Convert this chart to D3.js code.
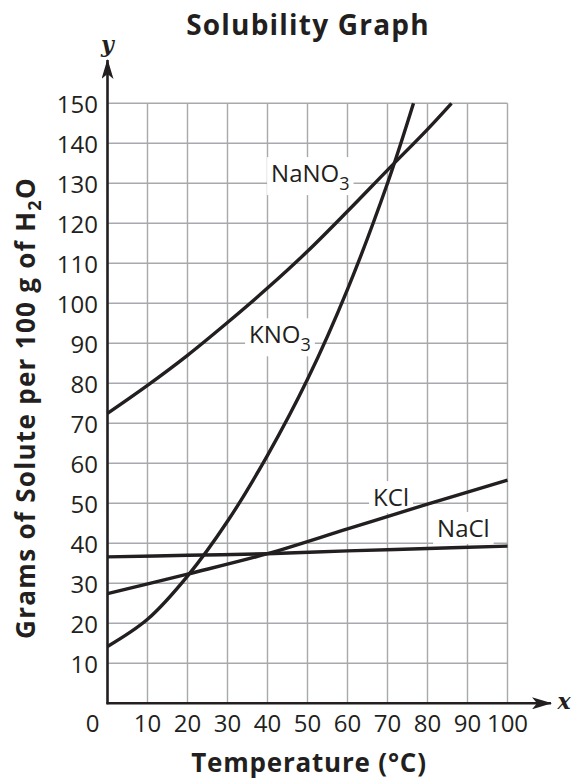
<!DOCTYPE html>
<html>
<head>
<meta charset="utf-8">
<script src="https://cdn.jsdelivr.net/npm/d3@7"></script>
<style>
  body { margin: 0; background: #fff; }
  text { font-family: "Open Sans", "Noto Sans", sans-serif; fill: #231f20; }
</style>
</head>
<body>
<script>
// temperature ticks and solubility ticks
var xTicks = [0, 10, 20, 30, 40, 50, 60, 70, 80, 90, 100];
var yTicks = [10, 20, 30, 40, 50, 60, 70, 80, 90, 100, 110, 120, 130, 140, 150];

// curves (temperature, grams per 100 g water)
var nano3Temp = [0, 10, 20, 30, 40, 50, 60, 70, 80, 86];
var nano3Vals = [72.5, 79.5, 87, 95.2, 103.8, 113, 123, 133.3, 143.5, 150];

var kno3Temp = [0, 10, 20, 30, 40, 50, 60, 70, 76.5];
var kno3Vals = [14.2, 21, 31.8, 45.5, 62, 81, 103.5, 130, 150];

var kclTemp = [0, 20, 40, 60, 80, 100];
var kclVals = [27.4, 32.3, 37.4, 43.6, 49.8, 55.8];

var naclTemp = [0, 20, 40, 60, 80, 100];
var naclVals = [36.6, 37, 37.4, 38.1, 38.7, 39.3];

var width = 573,
    height = 781;

var svg = d3.select("body").append("svg")
            .attr("width", width)
            .attr("height", height);

var x = d3.scaleLinear().domain([0, 100]).range([107.5, 507.5]);
var y = d3.scaleLinear().domain([0, 150]).range([703.3, 103.3]);

var ink = "#231f20";

// grid
var grid = svg.append("g").attr("stroke", "#a7a9ac").attr("stroke-width", 1.4);
grid.selectAll("line.h")
  .data(yTicks)
  .enter().append("line")
  .attr("class", "h")
  .attr("x1", x(0)).attr("x2", x(100))
  .attr("y1", function (d) { return y(d); })
  .attr("y2", function (d) { return y(d); });
grid.selectAll("line.v")
  .data(xTicks.slice(1))
  .enter().append("line")
  .attr("class", "v")
  .attr("y1", y(0)).attr("y2", y(150))
  .attr("x1", function (d) { return x(d); })
  .attr("x2", function (d) { return x(d); });

// axes with arrows
var defs = svg.append("defs");
defs.append("marker")
  .attr("id", "arrow")
  .attr("viewBox", "0 0 20 12")
  .attr("refX", 19).attr("refY", 6)
  .attr("markerWidth", 20).attr("markerHeight", 12)
  .attr("markerUnits", "userSpaceOnUse")
  .attr("orient", "auto")
  .append("path")
  .attr("d", "M0,0 L20,6 L0,12 L5,6 Z")
  .attr("fill", ink);

svg.append("line")
  .attr("x1", x(0) - 1).attr("x2", 551)
  .attr("y1", y(0)).attr("y2", y(0))
  .attr("stroke", ink).attr("stroke-width", 2.6)
  .attr("marker-end", "url(#arrow)");
svg.append("line")
  .attr("x1", x(0)).attr("x2", x(0))
  .attr("y1", y(0) + 1).attr("y2", 60)
  .attr("stroke", ink).attr("stroke-width", 2.6)
  .attr("marker-end", "url(#arrow)");

svg.append("text")
  .attr("x", 564).attr("y", 709)
  .attr("text-anchor", "middle")
  .style("font-family", "'DejaVu Serif', 'Liberation Serif', serif")
  .style("font-style", "italic").style("font-weight", "bold")
  .style("font-size", "22px")
  .text("x");
svg.append("text")
  .attr("x", x(0)).attr("y", 52)
  .attr("text-anchor", "middle")
  .style("font-family", "'DejaVu Serif', 'Liberation Serif', serif")
  .style("font-style", "italic").style("font-weight", "bold")
  .style("font-size", "22px")
  .text("y");

// tick labels
svg.selectAll("text.yt")
  .data(yTicks)
  .enter().append("text")
  .attr("class", "yt")
  .attr("x", 98)
  .attr("y", function (d) { return y(d) + 10; })
  .attr("text-anchor", "end")
  .style("font-size", "24px")
  .text(function (d) { return d; });

svg.selectAll("text.xt")
  .data(xTicks)
  .enter().append("text")
  .attr("class", "xt")
  .attr("x", function (d) { return d === 0 ? 92.5 : x(d); })
  .attr("y", 731.5)
  .attr("text-anchor", "middle")
  .style("font-size", "24px")
  .text(function (d) { return d; });

// titles
svg.append("text")
  .attr("x", 308).attr("y", 35)
  .attr("text-anchor", "middle")
  .style("font-size", "28px").style("font-weight", "bold")
  .style("letter-spacing", "1.2px")
  .text("Solubility Graph");

svg.append("text")
  .attr("x", 309).attr("y", 772)
  .attr("text-anchor", "middle")
  .style("font-size", "26px").style("font-weight", "bold")
  .style("letter-spacing", "0.8px")
  .text("Temperature (\u00B0C)");

var yt = svg.append("text")
  .attr("transform", "translate(35,408) rotate(-90)")
  .attr("text-anchor", "middle")
  .style("font-size", "26px").style("font-weight", "bold")
  .style("letter-spacing", "1.3px");
yt.append("tspan").text("Grams of Solute per 100 g of H");
yt.append("tspan").attr("dy", 6).style("font-size", "18px").text("2");
yt.append("tspan").attr("dy", -6).text("O");

// curve labels, white boxes break the grid
var labels = [
  { base: "NaNO", sub: "3", t: 40.9, v: 130.3 },
  { base: "KNO", sub: "3", t: 35.4, v: 90 },
  { base: "KCl", sub: "", t: 66.4, v: 49.3 },
  { base: "NaCl", sub: "", t: 82.4, v: 41.6 }
];

var boxG = svg.append("g");
var labelG = svg.append("g");
labels.forEach(function (d) {
  var t = labelG.append("text")
    .attr("x", x(d.t)).attr("y", y(d.v))
    .style("font-size", "24px");
  t.append("tspan").text(d.base);
  if (d.sub) {
    t.append("tspan").attr("dy", 8).style("font-size", "18px").text(d.sub);
  }
  var b = t.node().getBBox();
  boxG.append("rect").attr("fill", "#fff")
      .attr("x", b.x - 4).attr("y", b.y + 1)
      .attr("width", b.width + 8).attr("height", b.height - 1);
});

// curves
var line = d3.line()
  .x(function (d) { return x(d[0]); })
  .y(function (d) { return y(d[1]); })
  .curve(d3.curveCatmullRom.alpha(0.5));

var series = [
  d3.zip(nano3Temp, nano3Vals),
  d3.zip(kno3Temp, kno3Vals),
  d3.zip(kclTemp, kclVals),
  d3.zip(naclTemp, naclVals)
];

svg.selectAll("path.curve")
  .data(series)
  .enter().append("path")
  .attr("class", "curve")
  .attr("d", line)
  .attr("fill", "none")
  .attr("stroke", ink)
  .attr("stroke-width", 3.4);

labelG.raise();
</script>
</body>
</html>
